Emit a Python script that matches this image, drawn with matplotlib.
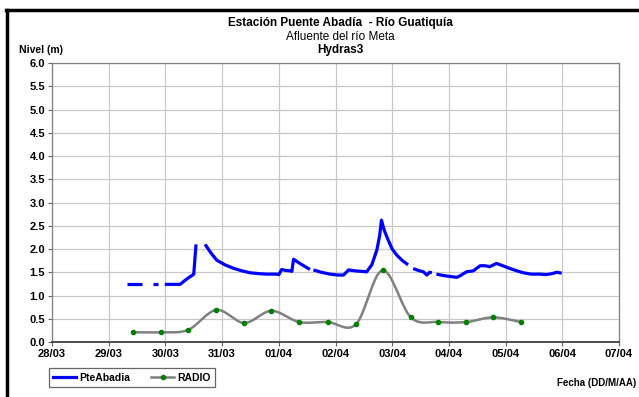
import numpy as np
import matplotlib
matplotlib.use("Agg")
import matplotlib.pyplot as plt
from matplotlib.lines import Line2D

plt.rcParams['font.family'] = ['Liberation Sans', 'DejaVu Sans']

# x in days since 28/03 00:00
tick_labels = ["28/03", "29/03", "30/03", "31/03", "01/04", "02/04",
               "03/04", "04/04", "05/04", "06/04", "07/04"]
y_ticks = [0.0, 0.5, 1.0, 1.5, 2.0, 2.5, 3.0, 3.5, 4.0, 4.5, 5.0, 5.5, 6.0]

# PteAbadia segments (gaps between them)
pte_segments = [
    ([1.32, 1.58], [1.25, 1.25]),
    ([1.78, 1.87], [1.25, 1.25]),
    ([1.99, 2.10, 2.26, 2.35, 2.43, 2.48, 2.50, 2.54],
     [1.24, 1.24, 1.24, 1.33, 1.40, 1.44, 1.46, 2.10]),
    ([2.70, 2.80, 2.905, 3.05, 3.19, 3.35, 3.49, 3.65, 3.79, 3.95, 4.00, 4.05, 4.12, 4.20, 4.23,
      4.26, 4.37, 4.55],
     [2.10, 1.92, 1.76, 1.66, 1.59, 1.53, 1.49, 1.47, 1.46, 1.46, 1.45, 1.56, 1.54, 1.53, 1.52,
      1.78, 1.69, 1.56]),
    ([4.61, 4.75, 4.90, 5.05, 5.14, 5.23, 5.35, 5.55, 5.64, 5.73, 5.78, 5.81, 5.86, 5.93, 6.00,
      6.08, 6.18, 6.28],
     [1.55, 1.50, 1.46, 1.44, 1.44, 1.55, 1.53, 1.51, 1.66, 1.98, 2.30, 2.62, 2.40, 2.19, 2.00,
      1.87, 1.75, 1.66]),
    ([6.37, 6.46, 6.55, 6.61, 6.66, 6.70],
     [1.58, 1.54, 1.51, 1.44, 1.50, 1.49]),
    ([6.78, 6.90, 7.02, 7.14, 7.22, 7.31, 7.43, 7.55, 7.64, 7.72, 7.84, 7.95, 8.08, 8.20, 8.31,
      8.45, 8.60, 8.72, 8.82, 8.90, 8.99],
     [1.46, 1.43, 1.41, 1.39, 1.44, 1.51, 1.53, 1.64, 1.64, 1.62, 1.69, 1.64, 1.58, 1.53, 1.49,
      1.46, 1.46, 1.45, 1.47, 1.50, 1.48]),
]

radio_x = [1.43, 1.92, 2.40, 2.90, 3.39, 3.87, 4.36, 4.86, 5.36, 5.83, 6.33, 6.81, 7.31, 7.78, 8.28]
radio_y = [0.21, 0.21, 0.26, 0.69, 0.41, 0.67, 0.43, 0.43, 0.38, 1.54, 0.53, 0.43, 0.43, 0.53, 0.43]


def smooth(xs, ys, n=20):
    # Catmull-Rom style smoothing (like spreadsheet smoothed lines)
    xs = np.asarray(xs, float)
    ys = np.asarray(ys, float)
    px = np.concatenate([[2 * xs[0] - xs[1]], xs, [2 * xs[-1] - xs[-2]]])
    py = np.concatenate([[2 * ys[0] - ys[1]], ys, [2 * ys[-1] - ys[-2]]])
    ox, oy = [], []
    for i in range(1, len(px) - 2):
        t = np.linspace(0, 1, n, endpoint=False)
        for p, out in ((px, ox), (py, oy)):
            p0, p1, p2, p3 = p[i - 1], p[i], p[i + 1], p[i + 2]
            out.extend(0.5 * ((2 * p1) + (-p0 + p2) * t +
                              (2 * p0 - 5 * p1 + 4 * p2 - p3) * t ** 2 +
                              (-p0 + 3 * p1 - 3 * p2 + p3) * t ** 3))
    ox.append(xs[-1]); oy.append(ys[-1])
    return np.array(ox), np.array(oy)


fig = plt.figure(figsize=(6.39, 3.97), dpi=100)
ax = fig.add_axes([0.0814, 0.1385, 0.8873, 0.7028])

for xs, ys in pte_segments:
    ax.plot(xs, ys, color='#0000FF', lw=2.3, solid_capstyle='butt', zorder=3)

sx, sy = smooth(radio_x, radio_y)
ax.plot(sx, sy, color='#808080', lw=1.8, zorder=2)
ax.plot(radio_x, radio_y, ls='none', marker='o', ms=3, color='#008000', zorder=4)

ax.set_xlim(0, 10)
ax.set_ylim(0, 6)
ax.set_xticks(range(len(tick_labels)))
ax.set_xticklabels(tick_labels, fontsize=8, fontweight='bold')
ax.set_yticks(y_ticks)
ax.set_yticklabels([f"{v:.1f}" for v in y_ticks], fontsize=8, fontweight='bold')
ax.grid(True, color='#C8C8C8', lw=0.9)
ax.set_axisbelow(True)
for s in ['top', 'right', 'left']:
    ax.spines[s].set_color('#808080')
    ax.spines[s].set_linewidth(0.9)
ax.spines['bottom'].set_color('#404040')
ax.spines['bottom'].set_linewidth(1.3)
ax.tick_params(axis='both', length=3, width=0.8, color='#606060', pad=2)

# titles
fig.text(0.532, 0.942, "Estación Puente Abadía  - Río Guatiquía", ha='center', va='center',
         fontsize=8.5, fontweight='bold')
fig.text(0.532, 0.907, "Afluente del río Meta", ha='center', va='center', fontsize=8.5)
fig.text(0.532, 0.873, "Hydras3", ha='center', va='center', fontsize=8.5, fontweight='bold')
fig.text(0.064, 0.873, "Nivel (m)", ha='center', va='center', fontsize=7.5, fontweight='bold')
fig.text(0.995, 0.035, "Fecha (DD/M/AA)", ha='right', va='center', fontsize=7, fontweight='bold')

# legend
handles = [Line2D([], [], color='#0000FF', lw=2.3),
           Line2D([], [], color='#808080', lw=1.8, marker='o', ms=3, mfc='#008000', mec='#008000')]
leg = fig.legend(handles, ["PteAbadia", "RADIO"], loc='lower left', bbox_to_anchor=(0.077, 0.026),
                 ncol=2, fontsize=7.5, frameon=True, fancybox=False, handlelength=2.2,
                 handletextpad=0.3, columnspacing=2.0, borderpad=0.4, borderaxespad=0.0)
leg.get_frame().set_edgecolor('#404040')
leg.get_frame().set_linewidth(0.9)
for t in leg.get_texts():
    t.set_fontweight('bold')

# outer frame (left and top)
fig.add_artist(Line2D([0.0117, 0.0117], [0.0, 0.9755], transform=fig.transFigure, color='black', lw=2.5))
fig.add_artist(Line2D([0.0095, 1.0], [0.9755, 0.9755], transform=fig.transFigure, color='black', lw=2.5))

fig.savefig("out.png", dpi=100)
